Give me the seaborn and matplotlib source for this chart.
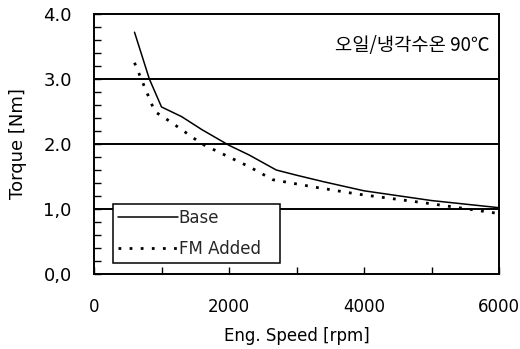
import numpy as np
import pandas as pd
import matplotlib
matplotlib.use("Agg")
import matplotlib.pyplot as plt
from matplotlib.ticker import MultipleLocator, FixedLocator
from matplotlib.lines import Line2D
import seaborn as sns

base_rpm = [600, 820, 1000, 1300, 1600, 2000, 2300, 2700, 3000, 3400, 4000, 5000, 6000]
base_torque = [3.72, 3.0, 2.57, 2.42, 2.22, 1.98, 1.83, 1.60, 1.52, 1.42, 1.28, 1.13, 1.02]
fm_rpm = [600, 700, 900, 1150, 1600, 2000, 2300, 2650, 3250, 3900, 5000, 6000]
fm_torque = [3.25, 3.0, 2.5, 2.33, 2.0, 1.80, 1.65, 1.45, 1.34, 1.23, 1.08, 0.93]
series_names = ["Base", "FM Added"]
y_tick_labels = ["0,0", "1,0", "2.0", "3.0", "4.0"]
x_tick_labels = ["0", "2000", "4000", "6000"]
annotation = "오일/냉각수온 90℃"

df = pd.DataFrame({
    "rpm": base_rpm + fm_rpm,
    "torque": base_torque + fm_torque,
    "series": [series_names[0]] * len(base_rpm) + [series_names[1]] * len(fm_rpm),
})

sns.set_theme(style="white")
plt.rcParams["font.family"] = ["DejaVu Sans", "Noto Sans CJK KR"]

DOT = (0, (1.0, 3.0))

fig = plt.figure(figsize=(5.2, 3.49), dpi=100)
ax = fig.add_axes([94 / 520, 1 - 274 / 349, (499 - 94) / 520, (274 - 14) / 349])

for yv in [1, 2, 3]:
    ax.axhline(yv, color="black", lw=1.4, zorder=1)

sns.lineplot(data=df, x="rpm", y="torque", hue="series", style="series",
             palette=["black", "black"], dashes={"Base": "", "FM Added": (1.0, 3.0)},
             ax=ax, sort=False, estimator=None, zorder=3, legend=False)
lines = ax.get_lines()[-2:]
lines[0].set_linewidth(1.1)
lines[1].set_linewidth(2.0)

ax.set_xlim(0, 6000)
ax.set_ylim(0, 4)
ax.xaxis.set_major_locator(FixedLocator([0, 2000, 4000, 6000]))
ax.set_xticklabels(x_tick_labels)
ax.xaxis.set_minor_locator(FixedLocator([1000, 3000, 5000]))
ax.yaxis.set_major_locator(FixedLocator([0, 1, 2, 3, 4]))
ax.set_yticklabels(y_tick_labels)
ax.yaxis.set_minor_locator(MultipleLocator(0.2))
ax.tick_params(axis="both", which="both", direction="in", color="black",
               labelcolor="black")
ax.tick_params(axis="x", which="both", length=5, width=1, pad=17, bottom=True,
               labelsize=12)
ax.tick_params(axis="y", which="both", length=5, width=1, pad=16, left=True,
               labelsize=13)

for s in ax.spines.values():
    s.set_color("black")
    s.set_linewidth(1.4)

ax.set_xlabel("Eng. Speed [rpm]", fontsize=12, color="black", labelpad=8)
ax.set_ylabel("Torque [Nm]", fontsize=13, color="black", labelpad=12)

ax.text(0.978, 0.877, annotation, transform=ax.transAxes, ha="right", va="center",
        fontsize=13.5, color="black", family=["Noto Sans CJK KR", "DejaVu Sans"])

handles = [Line2D([], [], color="black", lw=1.1),
           Line2D([], [], color="black", lw=2.0, linestyle=DOT)]
leg = ax.legend(handles, series_names, loc="lower left", mode="expand",
                bbox_to_anchor=(19 / 405, 11 / 260, 167 / 405, 0), frameon=True,
                fancybox=False, framealpha=1, edgecolor="black", fontsize=12,
                handlelength=3.6, handletextpad=0.05, borderpad=0.3,
                labelspacing=0.8, borderaxespad=0)
leg.get_frame().set_linewidth(1.1)
leg.set_zorder(5)

fig.savefig("out.png", dpi=100)
